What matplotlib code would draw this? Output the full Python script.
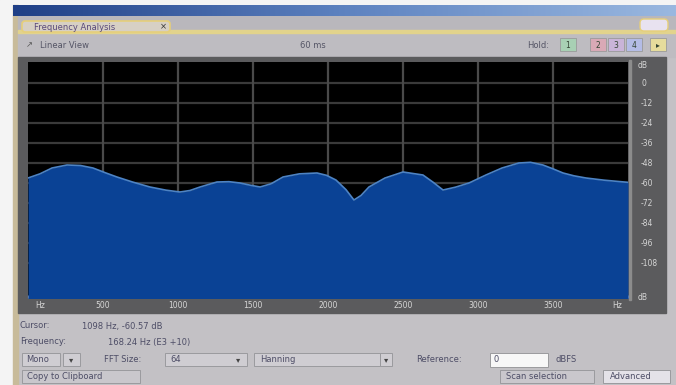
import matplotlib
matplotlib.use("Agg")
import matplotlib.pyplot as plt
import numpy as np
from matplotlib.patches import Rectangle, FancyBboxPatch

# spectrum readout (Hz, dB)
freq_hz = [0, 80, 160, 260, 350, 433, 520, 593, 700, 813, 920, 1013, 1080, 1147,
           1260, 1340, 1413, 1480, 1547, 1620, 1700, 1810, 1927, 1990, 2053, 2120,
           2173, 2220, 2273, 2380, 2500, 2633, 2700, 2767, 2850, 2940, 3053, 3160,
           3273, 3350, 3433, 3500, 3567, 3640, 3720, 3840, 4000]
level_db = [-57, -54.5, -51, -49.2, -49.5, -51, -54, -56.4, -59.5, -62.4, -64.3,
            -65.4, -64.5, -62.4, -59.4, -59.2, -60, -61.3, -62.4, -60.5, -56.4,
            -54.5, -54, -55.4, -58.2, -64, -70.2, -67.5, -62.4, -57, -53.4, -55.2,
            -59.5, -64.2, -62.5, -60, -55.2, -51, -48, -47.6, -49.2, -51.5, -54,
            -55.7, -57, -58.3, -59.6]

db_ticks = [0, -12, -24, -36, -48, -60, -72, -84, -96, -108]
hz_ticks = [500, 1000, 1500, 2000, 2500, 3000, 3500]

W, H = 676, 385
fig = plt.figure(figsize=(W / 100, H / 100), dpi=100)
plt.rcParams['font.family'] = ['DejaVu Sans']

# plot area in pixels
PX0, PX1, PY0, PY1 = 28, 628, 62, 298
YMIN, YMAX = -129, 12.6


def box(x0, y0, x1, y1):
    # pixel box (top-left origin) -> figure fractions
    return [x0 / W, 1 - y1 / H, (x1 - x0) / W, (y1 - y0) / H]


def db_to_px(d):
    return PY0 + (YMAX - d) / (YMAX - YMIN) * (PY1 - PY0)


def hz_to_px(f):
    return PX0 + f / 4000 * (PX1 - PX0)


bg = fig.add_axes([0, 0, 1, 1])
bg.set_xlim(0, W)
bg.set_ylim(H, 0)
bg.axis('off')

bg.add_patch(Rectangle((0, 0), W, H, color='#c3c1c5', zorder=0))
bg.add_patch(Rectangle((0, 0), 13, H, color='#f4f4f4', zorder=1))
bg.add_patch(Rectangle((0, 0), W, 5, color='#f4f4f4', zorder=1))
bg.add_patch(Rectangle((13, 5), 5, H, color='#c8bb9a', zorder=1))

# title bar gradient
grad = np.linspace(0, 1, 256).reshape(1, -1)
bar = fig.add_axes(box(13, 5, W, 16))
bar.imshow(grad, aspect='auto', cmap=matplotlib.colors.LinearSegmentedColormap.from_list(
    'tb', ['#1f3f86', '#5d82c0', '#9ab8e0']))
bar.axis('off')

# tab strip
bg.add_patch(Rectangle((18, 16), W - 18, 16, color='#b9b7bc', zorder=1))
bg.add_patch(Rectangle((18, 30), W - 18, 3, color='#e2d38c', zorder=2))
bg.add_patch(FancyBboxPatch((22, 21), 148, 11, boxstyle='round,pad=0,rounding_size=3',
                            fc='#d7d0c4', ec='#e6cf7a', lw=1.2, zorder=3))
bg.text(34, 27, 'Frequency Analysis', fontsize=6, color='#5a4a7a', va='center', zorder=4)
bg.text(160, 27, '×', fontsize=6, color='#333333', va='center', zorder=4)
bg.add_patch(FancyBboxPatch((640, 19), 28, 12, boxstyle='round,pad=0,rounding_size=4',
                            fc='#e8e2f0', ec='#e6cf7a', lw=1, zorder=3))

# toolbar
bg.add_patch(Rectangle((18, 33), W - 18, 24, color='#bebcc1', zorder=1))
bg.text(26, 45, '↗', fontsize=6, color='#555555', va='center', zorder=4)
bg.text(40, 45, 'Linear View', fontsize=6, color='#555566', va='center', zorder=4)
bg.text(300, 45, '60 ms', fontsize=6, color='#555566', va='center', zorder=4)
bg.text(527, 45, 'Hold:', fontsize=6, color='#555566', va='center', zorder=4)
for x0, fc, lab in [(560, '#a8d0b4', '1'), (590, '#d9a9b6', '2'),
                    (608, '#c9b4d8', '3'), (626, '#b4bce6', '4'), (650, '#e6dc9c', '▸')]:
    bg.add_patch(Rectangle((x0, 38), 16, 13, fc=fc, ec='#9a9a9a', lw=0.6, zorder=3))
    bg.text(x0 + 8, 45, lab, fontsize=5.5, color='#334433', ha='center', va='center', zorder=4)

# dark panel around the plot
bg.add_patch(Rectangle((18, 57), 648, 256, color='#5b5b5d', zorder=1))
bg.add_patch(Rectangle((629, 60), 1.5, 240, color='#8c8c8c', zorder=2))

# spectrum
ax = fig.add_axes(box(PX0, PY0, PX1, PY1))
ax.set_facecolor('black')
ax.set_xlim(0, 4000)
ax.set_ylim(YMIN, YMAX)
for d in db_ticks:
    ax.axhline(d, color='#3a3a3a', lw=1.6, zorder=1)
for f in hz_ticks:
    ax.axvline(f, color='#4a4a4a', lw=1.6, zorder=1)
ax.fill_between(freq_hz, level_db, YMIN - 10, color='#0a4295', zorder=2, lw=0)
ax.plot(freq_hz, level_db, color='#4d83c4', lw=1.2, zorder=3)
ax.set_xticks([])
ax.set_yticks([])
for s in ax.spines.values():
    s.set_visible(False)
ax.set_xticks(np.arange(0, 4001, 100), minor=True)
ax.tick_params(axis='x', which='minor', direction='in', length=2, color='#8fa7cf', width=0.8)

# scale labels
tick_kw = dict(fontsize=5.5, color='#d6d6d6', zorder=4)
for d in db_ticks:
    bg.text(641, db_to_px(d), str(d), va='center', ha='left', **tick_kw)
bg.text(638, 65, 'dB', va='center', ha='left', **tick_kw)
bg.text(638, 297, 'dB', va='center', ha='left', **tick_kw)
bg.text(35, 305, 'Hz', va='center', ha='left', **tick_kw)
for f in hz_ticks:
    bg.text(hz_to_px(f), 305, str(f), va='center', ha='center', **tick_kw)
bg.text(617, 305, 'Hz', va='center', ha='center', **tick_kw)

# status / controls
lab_kw = dict(fontsize=6, color='#4d4d66', va='center', zorder=4)
bg.text(20, 326, 'Cursor:', **lab_kw)
bg.text(82, 326, '1098 Hz, -60.57 dB', **lab_kw)
bg.text(20, 342, 'Frequency:', **lab_kw)
bg.text(108, 342, '168.24 Hz (E3 +10)', **lab_kw)


def field(x0, x1, y0, y1, fc='#cfcdd2'):
    bg.add_patch(Rectangle((x0, y0), x1 - x0, y1 - y0, fc=fc, ec='#9a9a9e', lw=0.7, zorder=3))


arrow_kw = dict(ha='center', fontsize=6, color='#444444', va='center', zorder=4)
field(22, 60, 353, 366)
bg.text(26, 359.5, 'Mono', **lab_kw)
field(63, 80, 353, 366)
bg.text(71.5, 359.5, '▾', **arrow_kw)
bg.text(104, 359.5, 'FFT Size:', **lab_kw)
field(165, 247, 353, 366)
bg.text(170, 359.5, '64', **lab_kw)
bg.text(238, 359.5, '▾', **arrow_kw)
field(254, 380, 353, 366)
bg.text(260, 359.5, 'Hanning', **lab_kw)
field(380, 392, 353, 366)
bg.text(386, 359.5, '▾', **arrow_kw)
bg.text(416, 359.5, 'Reference:', **lab_kw)
field(490, 548, 353, 367, fc='#f7f7f7')
bg.text(494, 359.5, '0', **lab_kw)
bg.text(555, 359.5, 'dBFS', **lab_kw)

field(22, 140, 370, 383, fc='#c9c7cc')
bg.text(27, 376.5, 'Copy to Clipboard', **lab_kw)
field(500, 594, 370, 383, fc='#c9c7cc')
bg.text(506, 376.5, 'Scan selection', **lab_kw)
field(603, 670, 370, 383, fc='#e4e2e8')
bg.text(610, 376.5, 'Advanced', **lab_kw)

fig.savefig('out.png', dpi=100)
